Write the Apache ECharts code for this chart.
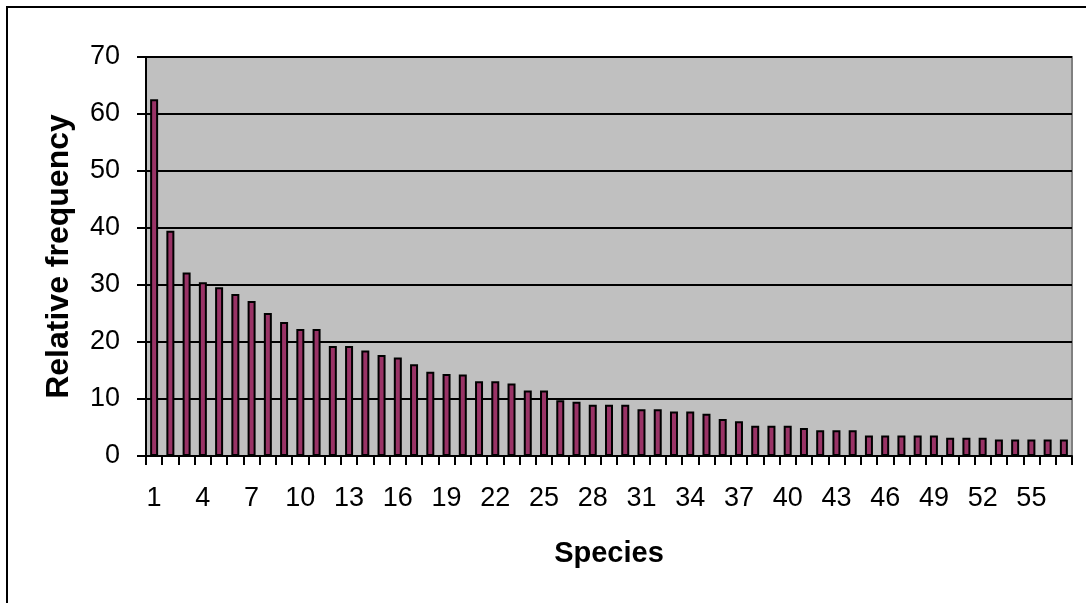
<!DOCTYPE html>
<html>
<head>
<meta charset="utf-8">
<title>Relative frequency by species</title>
<script src="https://cdn.jsdelivr.net/npm/echarts@6/dist/echarts.min.js"></script>
<style>
  html, body { margin: 0; padding: 0; background: #ffffff; }
  #chart { width: 1086px; height: 603px; }
</style>
</head>
<body>
<div id="chart"></div>
<script>
// Species rank (x categories)
const species = [
  '1','2','3','4','5','6','7','8','9','10',
  '11','12','13','14','15','16','17','18','19','20',
  '21','22','23','24','25','26','27','28','29','30',
  '31','32','33','34','35','36','37','38','39','40',
  '41','42','43','44','45','46','47','48','49','50',
  '51','52','53','54','55','56','57'
];

// Relative frequency of each species
const relativeFrequency = [
  62.6, 39.5, 32.2, 30.5, 29.6, 28.4, 27.2, 25.1, 23.5, 22.3,
  22.3, 19.3, 19.3, 18.5, 17.7, 17.3, 16.1, 14.8, 14.4, 14.3,
  13.1, 13.1, 12.7, 11.5, 11.5, 9.8, 9.5, 9.0, 9.0, 9.0,
  8.2, 8.2, 7.8, 7.8, 7.4, 6.5, 6.1, 5.3, 5.3, 5.3,
  4.9, 4.5, 4.5, 4.5, 3.6, 3.6, 3.6, 3.6, 3.6, 3.2,
  3.2, 3.2, 2.9, 2.9, 2.9, 2.9, 2.9
];

// Value axis ticks
const yTicks = [0, 10, 20, 30, 40, 50, 60, 70];

const FONT = '"Liberation Sans", Arial, sans-serif';

const chart = echarts.init(document.getElementById('chart'), null, { renderer: 'canvas' });

chart.setOption({
  animation: false,
  backgroundColor: '#ffffff',
  graphic: [{
    type: 'rect',
    silent: true,
    z: 100,
    shape: { x: 7, y: 7, width: 1300, height: 900 },
    style: { fill: 'none', stroke: '#000000', lineWidth: 2 }
  }],
  grid: {
    left: 146,
    right: 14,
    top: 57,
    bottom: 147,
    show: true,
    backgroundColor: '#C0C0C0',
    borderColor: '#808080',
    borderWidth: 2
  },
  xAxis: {
    type: 'category',
    data: species,
    name: 'Species',
    nameLocation: 'middle',
    nameGap: 83,
    nameTextStyle: { fontFamily: FONT, fontSize: 29, fontWeight: 'bold', color: '#000' },
    axisLine: { show: true, lineStyle: { color: '#000', width: 2 } },
    axisTick: { show: true, interval: 0, alignWithLabel: false, length: 9, lineStyle: { color: '#000', width: 2 } },
    axisLabel: { interval: 2, margin: 29, fontFamily: FONT, fontSize: 27, color: '#000' },
    splitLine: { show: false }
  },
  yAxis: {
    type: 'value',
    min: yTicks[0],
    max: yTicks[yTicks.length - 1],
    interval: yTicks[1] - yTicks[0],
    name: 'Relative frequency',
    nameLocation: 'middle',
    nameGap: 71,
    nameTextStyle: { fontFamily: FONT, fontSize: 32, fontWeight: 'bold', color: '#000' },
    axisLine: { show: true, lineStyle: { color: '#000', width: 2 } },
    axisTick: { show: true, length: 9, lineStyle: { color: '#000', width: 2 } },
    axisLabel: { margin: 26, fontFamily: FONT, fontSize: 27, color: '#000' },
    splitLine: { show: true, lineStyle: { color: '#000', width: 2 } }
  },
  series: [{
    type: 'bar',
    data: relativeFrequency,
    barWidth: 8,
    itemStyle: { color: '#993366', borderColor: '#000000', borderWidth: 2 }
  }]
});
</script>
</body>
</html>
